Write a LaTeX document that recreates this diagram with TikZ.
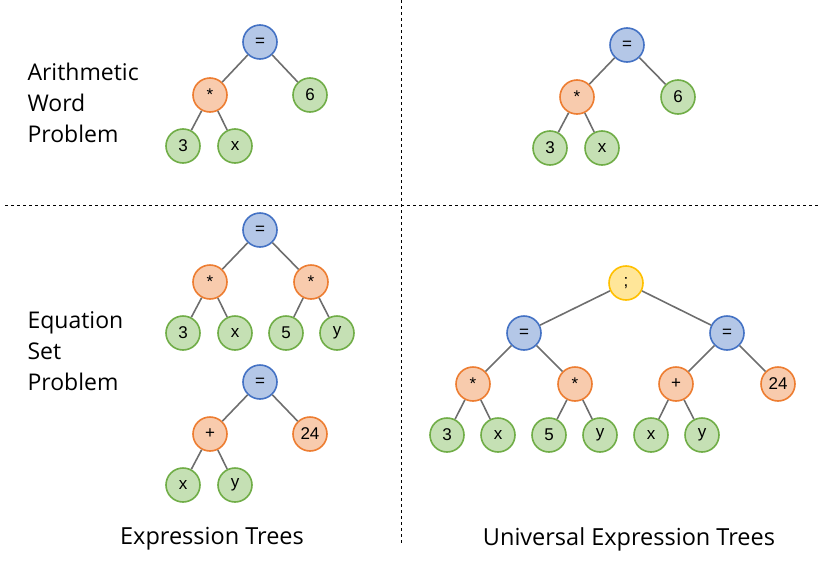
\documentclass[tikz,border=0pt]{standalone}
\usepackage{fontspec}
\setmainfont{Liberation Sans}
\newfontfamily\labelfont{Open Sans}
\definecolor{bfill}{HTML}{B4C7E7}\definecolor{bdraw}{HTML}{4472C4}
\definecolor{ofill}{HTML}{F8CBAD}\definecolor{odraw}{HTML}{ED7D31}
\definecolor{gfill}{HTML}{C5E0B4}\definecolor{gdraw}{HTML}{70AD47}
\definecolor{yfill}{HTML}{FFE699}\definecolor{ydraw}{HTML}{FFC000}
\definecolor{edgec}{HTML}{6E6E6E}
\begin{document}
\begin{tikzpicture}[x=1pt,y=-1pt,
  nd/.style={circle,minimum size=34pt,inner sep=0pt,line width=1.6pt,font=\fontsize{17}{17}\selectfont},
  bn/.style={nd,fill=bfill,draw=bdraw},
  on/.style={nd,fill=ofill,draw=odraw},
  gn/.style={nd,fill=gfill,draw=gdraw},
  yn/.style={nd,fill=yfill,draw=ydraw},
  ed/.style={draw=edgec,line width=1.6pt},
  sep/.style={draw=black,dashed,line width=0.8pt},
  lbl/.style={font=\labelfont\fontsize{23}{31}\selectfont,align=left,anchor=west},
  captxt/.style={font=\labelfont\fontsize{23.5}{23.5}\selectfont}]
\useasboundingbox (0,0) rectangle (823,568);
\coordinate (vt) at (401,0); \coordinate (vb) at (401,545);
\coordinate (hl) at (5,205); \coordinate (hr) at (818,205);
\draw[sep] (vt) -- (vb);
\draw[sep] (hl) -- (hr);
% top-left
\node[bn] (a1) at (260,42) {=};
\node[on] (a2) at (210,95) {*};
\node[gn] (a3) at (310,95) {6};
\node[gn] (a4) at (183,146) {3};
\node[gn] (a5) at (235,146) {x};
% top-right
\node[bn] (b1) at (627,45) {=};
\node[on] (b2) at (577,97) {*};
\node[gn] (b3) at (678,97) {6};
\node[gn] (b4) at (550,148) {3};
\node[gn] (b5) at (602,148) {x};
% bottom-left 1
\node[bn] (c1) at (260,230) {=};
\node[on] (c2) at (210,282) {*};
\node[on] (c3) at (311,282) {*};
\node[gn] (c4) at (183,333) {3};
\node[gn] (c5) at (235,333) {x};
\node[gn] (c6) at (286,333) {5};
\node[gn] (c7) at (337,333) {y};
% bottom-left 2
\node[bn] (d1) at (260,382) {=};
\node[on] (d2) at (210,434) {+};
\node[on] (d3) at (310,434) {24};
\node[gn] (d4) at (183,485) {x};
\node[gn] (d5) at (235,485) {y};
% bottom-right
\node[yn] (e0) at (626,283) {;};
\node[bn] (e1) at (524,333) {=};
\node[bn] (e2) at (727,333) {=};
\node[on] (e3) at (473,384) {*};
\node[on] (e4) at (575,384) {*};
\node[on] (e5) at (676,384) {+};
\node[on] (e6) at (778,384) {24};
\node[gn] (e7) at (447,435) {3};
\node[gn] (e8) at (498,435) {x};
\node[gn] (e9) at (549,435) {5};
\node[gn] (e10) at (600,435) {y};
\node[gn] (e11) at (651,435) {x};
\node[gn] (e12) at (702,435) {y};
% edges
\foreach \p/\c in {a1/a2,a1/a3,a2/a4,a2/a5,
  b1/b2,b1/b3,b2/b4,b2/b5,
  c1/c2,c1/c3,c2/c4,c2/c5,c3/c6,c3/c7,
  d1/d2,d1/d3,d2/d4,d2/d5,
  e0/e1,e0/e2,e1/e3,e1/e4,e2/e5,e2/e6,e3/e7,e3/e8,e4/e9,e4/e10,e5/e11,e5/e12}
  \draw[ed] (\p) -- (\c);
% labels
\node[lbl] (t1) at (24,103) {Arithmetic\\Word\\Problem};
\node[lbl] (t2) at (24,351) {Equation\\Set\\Problem};
\node[captxt] (t3) at (212,539) {Expression Trees};
\node[captxt] (t4) at (629,539) {Universal Expression Trees};
\end{tikzpicture}
\end{document}
